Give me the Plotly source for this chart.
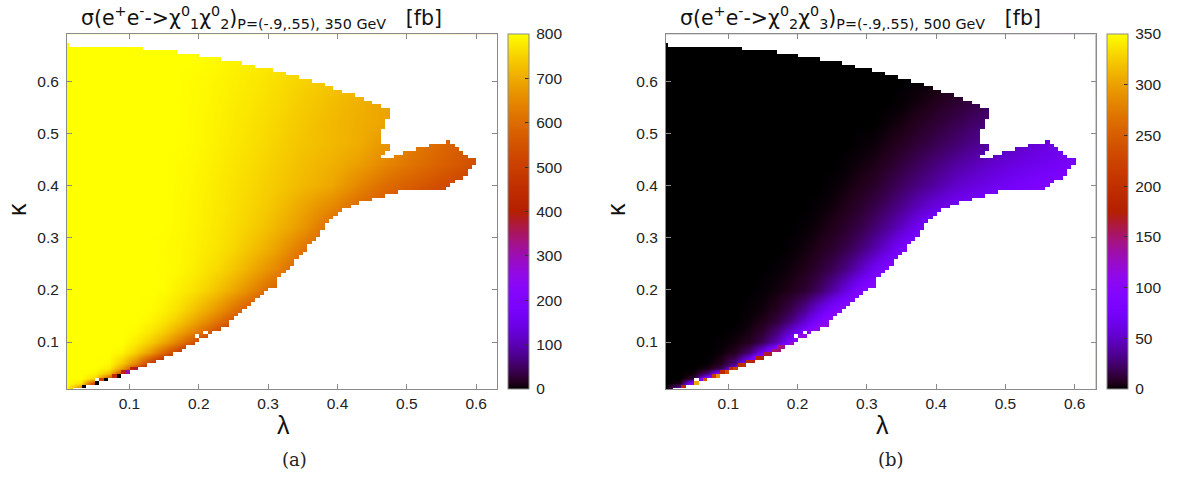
import numpy as np
import plotly.graph_objects as go

W, H = 1178, 479
LAMBDA_0, D_LAMBDA = 0.01, 0.00625
KAPPA_0, D_KAPPA = 0.0075, 0.0069
TICKS = [0.1, 0.2, 0.3, 0.4, 0.5, 0.6]

# Values on a grid (rows: kappa, columns: lambda)
GRID_LAMBDA = [.01,.03,.05,.07,.09,.11,.13,.15,.17,.19,.21,.23,.25,.27,.29,.31,.33,.35,.39,.43,.47,.51,.55,.59,.63]
GRID_KAPPA = [.01,.02,.03,.04,.05,.06,.08,.10,.12,.14,.16,.20,.24,.28,.32,.36,.40,.44,.48,.52,.56,.60,.64,.69]

SIGMA_A = [
    [800,600,450]+[400]*22,
    [800,770,500]+[400]*22,
    [800,800,760,560,400]+[400]*20,
    [800,800,790,730,520,400]+[400]*19,
    [800]*3+[780,680,520,400]+[400]*18,
    [800]*3+[795,740,640,500,400]+[400]*17,
    [800]*4+[790,745,680,590,500,400]+[400]*15,
    [800]*5+[780,745,695,630,560,480,420]+[420]*13,
    [800]*5+[795,775,745,700,650,595,530,470]+[450]*12,
    [800]*6+[790,770,740,700,655,605,550,490]+[450]*11,
    [800]*6+[797,785,765,735,700,660,615,570,520]+[500]*10,
    [800]*7+[797,785,770,750,725,695,660,620,580,540]+[500]*8,
    [800]*7+[798,793,785,770,755,735,710,680,650,610,570,500]+[480]*6,
    [800]*7+[797,793,787,778,768,755,735,715,690,655,620,560]+[480]*6,
    [800]*8+[795,789,781,772,762,750,735,715,695,670,600,560]+[520]*5,
    [800]*8+[795,790,783,775,766,756,745,730,712,692,650,600,560,530]+[500]*3,
    [800]*8+[796,791,785,777,769,760,750,740,730,718,695,647,600,568,535,505,480],
    [800]*8+[797,793,787,780,772,764,755,745,735,724,708,683,645,610,578,547,515],
    [800]*9+[795,790,783,776,768,760,751,741,732,718,703,668,625,590,560,530],
    [800]*9+[795,790,785,778,771,763,755,746,736,718,705,690,650,610,580,550],
    [800]*9+[796,792,787,781,775,768,760,751,742,725,708,690,670,640,610,580],
    [800]*9+[797,793,789,784,778,772,765,757,750,735,720,702,680,650,620,590],
    [800]*10+[797,793,788,783,778,772,765,758,745,730,715,700,670,640,610],
    [800]*11+[796,792,787,782,777,771,765,752,738,722,705,680,650,620],
]

SIGMA_B = [
    [0,60,200]+[200]*22,
    [0,5,110,200]+[200]*21,
    [0,0,10,100,200]+[200]*20,
    [0,0,3,30,110,200]+[200]*19,
    [0,0,0,4,18,65,180]+[200]*18,
    [0,0,0,1,7,30,95,190]+[200]*17,
    [0]*4+[2,7,25,70,130,190]+[200]*15,
    [0]*4+[1,3,7,20,45,90,130,150]+[150]*13,
    [0]*5+[1,4,11,28,55,85,125]+[130]*13,
    [0]*6+[2,6,14,30,55,85,115]+[120]*12,
    [0]*6+[1,3,8,18,35,60,85,110,120]+[120]*10,
    [0]*7+[1,3,6,11,21,38,60,88,110,120]+[120]*8,
    [0]*8+[1,3,6,11,19,31,48,70,90,105,120]+[120]*6,
    [0]*9+[1,3,6,10,17,27,40,58,80,110,120]+[120]*5,
    [0]*10+[1,3,6,10,16,25,36,50,85,105,120]+[120]*4,
    [0]*11+[1,3,6,10,16,24,33,55,72,85,95,100,100,100],
    [0]*12+[1,3,6,9,15,22,35,52,63,75,85,92,95],
    [0]*13+[1,3,5,9,14,25,38,50,60,68,78,85],
    [0]*14+[1,2,5,8,16,26,37,48,58,70,80],
    [0]*16+[2,4,10,18,27,38,50,60,70],
    [0]*17+[1,5,11,18,28,38,48,58],
    [0]*18+[2,6,12,20,28,36,44],
    [0]*19+[2,6,12,18,24,30],
    [0]*20+[2,6,10,15,20],
]

# last filled column of the main body in every fine row (row 0 = bottom)
RIGHT_EDGE = [1,4,7,9,12,14,16,18,20,22,24,26,27,29,30,32,33,35,37,37,38,39,40,41,42,43,44,45,46,48,48,48,
              49,50,51,52,52,53,54,55,55,56,57,58,58,59,59,60,61,62,63,65,67,70,73,76,87,
              88,89,91,92,92,93,94,94,
              72,73,74,74,72,72,72,72,73,73,73,74,74,74,
              72,70,68,66,63,61,59,56,53,50,47,43,40,35,30,25,17,0]
# second filled span in the rows above the notch: row -> (first col, last col)
TONGUE = {65: (76, 92), 66: (78, 91), 67: (81, 90), 68: (84, 89), 69: (88, 88)}
HOLES = [(3, 7), (15, 30), (16, 32)]

# isolated cells along the lower edge: (row, col, value)
A_CELLS = [(1,4,0),(2,7,0),(3,9,0),(4,12,0),(5,14,310),(6,16,375),(6,15,430),(5,13,430),(4,11,440),(3,8,520)]
B_CELLS = [(1,4,190),(2,7,305),(3,8,95),(3,9,240),(4,11,215),(4,12,290),(5,13,190),(5,14,240),
           (6,15,190),(6,16,225),(7,17,195),(7,18,200),(8,19,185),(8,20,185),(9,21,180),(9,22,180),
           (10,23,165),(10,24,165),(11,25,150),(11,26,150),(12,26,145),(12,27,145),(13,29,130),
           (15,31,115),(15,32,115)]

N_ROWS, N_COLS = 102, 102
X_FINE = LAMBDA_0 + D_LAMBDA * np.arange(N_COLS)
Y_FINE = KAPPA_0 + D_KAPPA * np.arange(N_ROWS)


def outside_mask():
    m = np.ones((N_ROWS, N_COLS))
    for j, last in enumerate(RIGHT_EDGE):
        m[j, :last + 1] = np.nan
        if j in TONGUE:
            m[j, TONGUE[j][0]:TONGUE[j][1] + 1] = np.nan
    for j, i in HOLES:
        m[j, i] = 1
    return m


def cell_layer(cells):
    z = np.full((N_ROWS, N_COLS), np.nan)
    for j, i, v in cells:
        z[j, i] = v
    return z


def pm3d_scale():
    out = []
    for k in range(65):
        t = k / 64
        r = t ** 0.5
        g = t ** 3
        b = max(np.sin(2 * np.pi * t), 0)
        out.append([t, f"rgb({round(r*255)},{round(g*255)},{round(b*255)})"])
    return out


SCALE = pm3d_scale()
GREY = "#8a8a8a"
TICKFONT = dict(family="Liberation Sans, Arial, sans-serif", size=15.5, color="#222")
MASK = outside_mask()

fig = go.Figure()
PANELS = [
    dict(z=SIGMA_A, cells=A_CELLS, zmax=800, dtick=100, x0=67, x1=497, cb=508, ax="x", ay="y",
         title="σ(e<sup>+</sup>e<sup>-</sup>->χ<sup>0</sup><sub>1</sub>χ<sup>0</sup><sub>2</sub>)"
               "<sub>P=(-.9,.55), 350 GeV</sub>   [fb]", tx=261, cap="(a)", capx=294),
    dict(z=SIGMA_B, cells=B_CELLS, zmax=350, dtick=50, x0=666, x1=1095.5, cb=1107, ax="x2", ay="y2",
         title="σ(e<sup>+</sup>e<sup>-</sup>->χ<sup>0</sup><sub>2</sub>χ<sup>0</sup><sub>3</sub>)"
               "<sub>P=(-.9,.55), 500 GeV</sub>   [fb]", tx=860, cap="(b)", capx=891),
]
TOP, BOTTOM = 34.3, 389
annotations = []
for p in PANELS:
    fig.add_trace(go.Heatmap(
        x=GRID_LAMBDA, y=GRID_KAPPA, z=p["z"], xaxis=p["ax"], yaxis=p["ay"], zmin=0, zmax=p["zmax"],
        colorscale=SCALE, zsmooth="best",
        colorbar=dict(x=p["cb"] / W, xanchor="left", xpad=0, ypad=0, y=1 - BOTTOM / H, yanchor="bottom",
                      lenmode="fraction", len=(BOTTOM - TOP) / H, thickness=21, thicknessmode="pixels",
                      outlinewidth=1, outlinecolor=GREY, ticks="inside", ticklen=4, tickcolor="#333",
                      dtick=p["dtick"], tick0=0, tickfont=TICKFONT, tickprefix="\u2009"),
    ))
    fig.add_trace(go.Heatmap(
        x=X_FINE, y=Y_FINE, z=MASK, xaxis=p["ax"], yaxis=p["ay"], zmin=0, zmax=1,
        colorscale=[[0, "white"], [1, "white"]], showscale=False, hoverinfo="skip",
    ))
    fig.add_trace(go.Heatmap(
        x=X_FINE, y=Y_FINE, z=cell_layer(p["cells"]), xaxis=p["ax"], yaxis=p["ay"], zmin=0, zmax=p["zmax"],
        colorscale=SCALE, showscale=False, hoverongaps=False,
    ))
    axis = dict(showgrid=False, zeroline=False, showline=True, linecolor=GREY, linewidth=1, mirror="ticks",
                ticks="inside", ticklen=5, tickcolor=GREY, tickvals=TICKS, ticktext=[str(t) for t in TICKS],
                tickfont=TICKFONT)
    xname = "xaxis" if p["ax"] == "x" else "xaxis2"
    yname = "yaxis" if p["ay"] == "y" else "yaxis2"
    fig.update_layout({
        xname: dict(axis, domain=[p["x0"] / W, p["x1"] / W], range=[0.01, 0.63], anchor=p["ay"]),
        yname: dict(axis, domain=[1 - BOTTOM / H, 1 - TOP / H], range=[0.01, 0.69], anchor=p["ax"],
                    ticklabelstandoff=4),
    })
    annotations += [
        dict(x=p["tx"] / W, y=1 - 17 / H, text=p["title"], font=dict(family="DejaVu Sans", size=20.5, color="#111")),
        dict(x=(p["x0"] + 216) / W, y=1 - 425 / H, text="λ", font=dict(family="Liberation Sans", size=25, color="#111")),
        dict(x=(p["x0"] - 50) / W, y=1 - 210 / H, text="κ", textangle=-90,
             font=dict(family="Liberation Sans", size=25, color="#111")),
        dict(x=p["capx"] / W, y=1 - 459 / H, text=p["cap"], font=dict(family="DejaVu Serif", size=18, color="#222")),
    ]
for a in annotations:
    a.update(xref="paper", yref="paper", showarrow=False, xanchor="center", yanchor="middle")

fig.update_layout(width=W, height=H, margin=dict(l=0, r=0, t=0, b=0), autosize=False,
                  paper_bgcolor="white", plot_bgcolor="white", annotations=annotations, showlegend=False)
fig.write_html("out.html", config=dict(displayModeBar=False),
               post_script="document.body.style.margin='0';document.body.style.overflow='hidden';")
